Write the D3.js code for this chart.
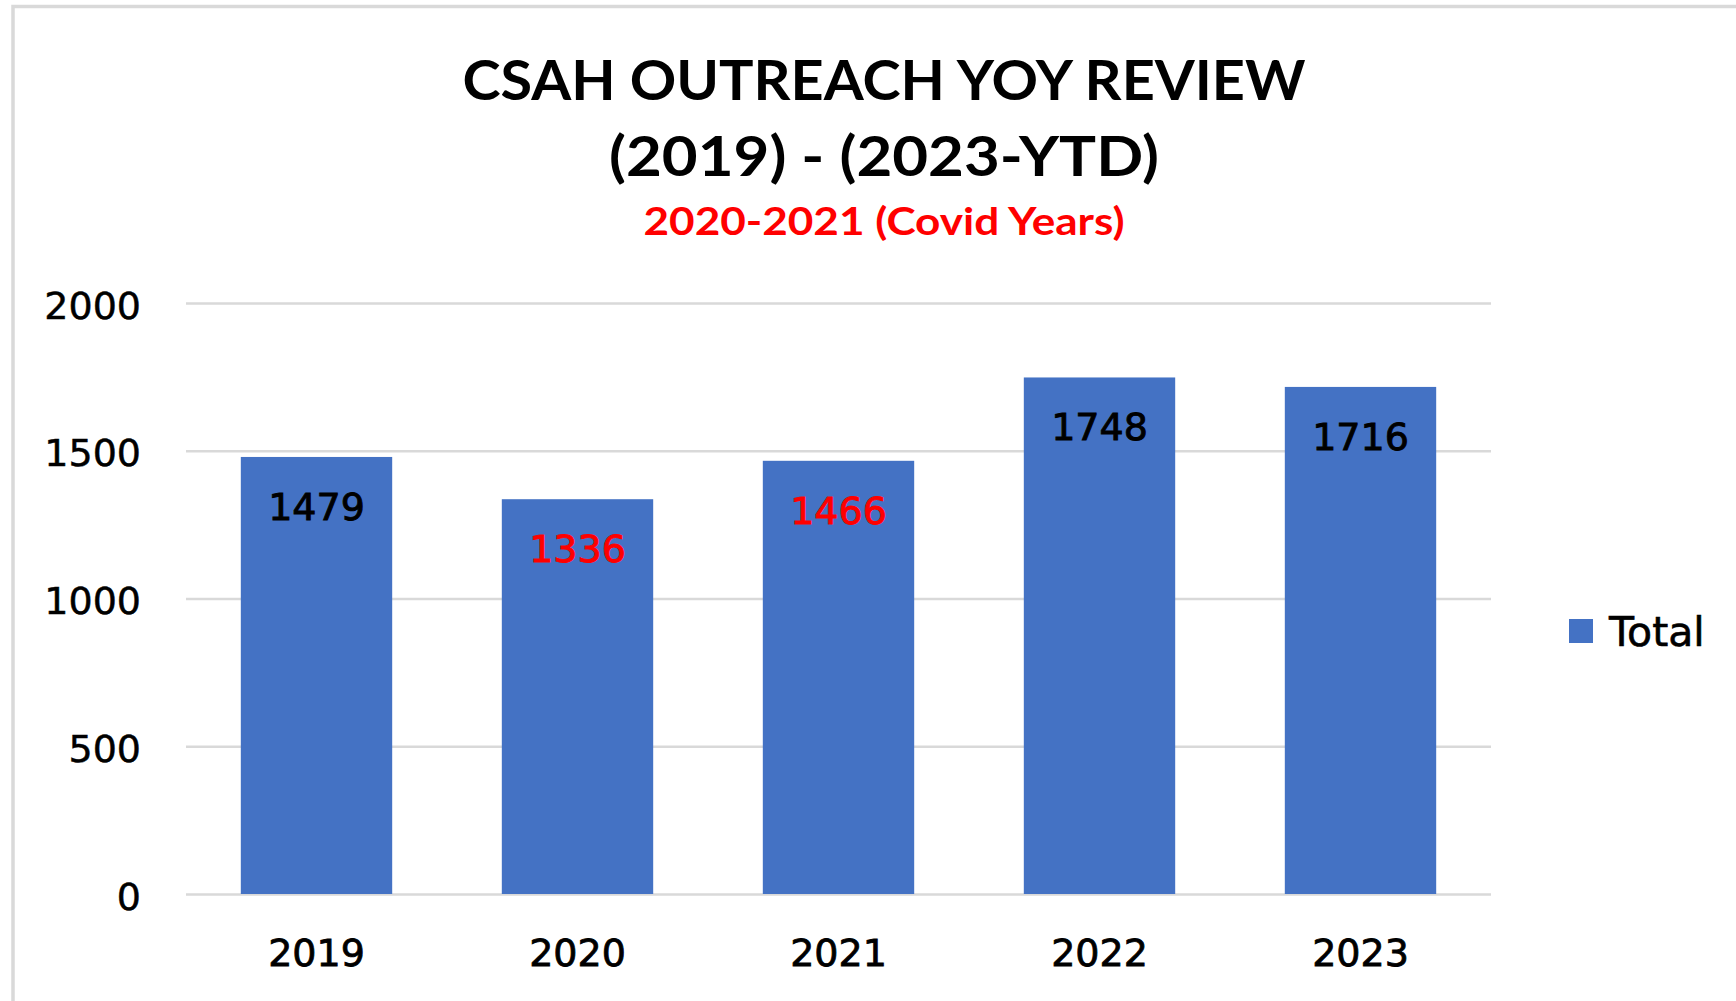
<!DOCTYPE html>
<html>
<head>
<meta charset="utf-8">
<title>CSAH Outreach YOY Review</title>
<script src="https://d3js.org/d3.v7.min.js"></script>
<style>
    body { margin: 0; background: #fff; }
    svg { display: block; }
    .tick text { font-family: "DejaVu Sans", Verdana, sans-serif; font-size: 38px; fill: #000; }
</style>
</head>
<body>
<div id="chart"></div>
<script>
// chart values
var years = ["2019", "2020", "2021", "2022", "2023"];
var totals = [1479, 1336, 1466, 1748, 1716];
var covidYears = ["2020", "2021"];
var yTicks = [0, 500, 1000, 1500, 2000];
var seriesName = "Total";

var W = 1736, H = 1001;
var plotLeft = 186, plotRight = 1491, plotTop = 303, plotBottom = 894;

var svg = d3.select("#chart").append("svg")
    .attr("width", W).attr("height", H);

// chart area border (only top/left visible in the shot)
svg.append("rect").attr("x", 13).attr("y", 6.5)
    .attr("width", W + 20).attr("height", H + 20)
    .attr("fill", "none").attr("stroke", "#d9d9d9").attr("stroke-width", 3.5);

// titles
function fitText(sel, w) {
    sel.attr("textLength", w).attr("lengthAdjust", "spacingAndGlyphs");
}
svg.append("text").attr("x", 884).attr("y", 100)
    .attr("text-anchor", "middle")
    .style("font-family", "Lato, 'Open Sans', sans-serif").style("font-weight", 700)
    .style("font-size", "56px").attr("fill", "#000")
    .text("CSAH OUTREACH YOY REVIEW").call(fitText, 843);
svg.append("text").attr("x", 884).attr("y", 176)
    .attr("text-anchor", "middle")
    .style("font-family", "Lato, 'Open Sans', sans-serif").style("font-weight", 700)
    .style("font-size", "56px").attr("fill", "#000")
    .text("(2019) - (2023-YTD)").call(fitText, 550);
svg.append("text").attr("x", 884).attr("y", 235)
    .attr("text-anchor", "middle")
    .style("font-family", "Lato, 'Open Sans', sans-serif").style("font-weight", 700)
    .style("font-size", "38px").attr("fill", "#ff0000")
    .text("2020-2021 (Covid Years)").call(fitText, 481);

var x = d3.scaleBand().domain(years).range([plotLeft, plotRight])
    .paddingInner(0.42).paddingOuter(0.21);
var y = d3.scaleLinear().domain([0, 2000]).range([plotBottom, plotTop]);

// gridlines
svg.append("g").attr("class", "grid")
    .attr("transform", "translate(" + plotLeft + ",0)")
    .call(d3.axisLeft(y).tickValues(yTicks).tickSize(-(plotRight - plotLeft)).tickFormat(""))
    .call(function(g) { g.select(".domain").remove(); })
    .call(function(g) { g.selectAll("line").attr("stroke", "#d9d9d9").attr("stroke-width", 2.5); });

// y axis labels
svg.append("g")
    .attr("transform", "translate(" + plotLeft + ",0)")
    .call(d3.axisLeft(y).tickValues(yTicks).tickSize(0).tickPadding(45).tickFormat(d3.format("d")))
    .call(function(g) { g.select(".domain").remove(); })
    .call(function(g) { g.selectAll("text").attr("dy", "0.4em").attr("stroke", "#000").attr("stroke-width", 0.5); });

// bars
var data = years.map(function(d, i) { return { year: d, value: totals[i] }; });
svg.append("g").selectAll("rect").data(data).enter().append("rect")
    .attr("x", function(d) { return x(d.year); })
    .attr("y", function(d) { return y(d.value); })
    .attr("width", x.bandwidth())
    .attr("height", function(d) { return plotBottom - y(d.value); })
    .attr("fill", "#4472c4");

// data labels
svg.append("g").selectAll("text").data(data).enter().append("text")
    .attr("x", function(d) { return x(d.year) + x.bandwidth() / 2; })
    .attr("y", function(d) { return y(d.value) + 63; })
    .attr("text-anchor", "middle")
    .style("font-family", "'DejaVu Sans', Verdana, sans-serif")
    .style("font-size", "38px")
    .attr("fill", function(d) { return covidYears.indexOf(d.year) >= 0 ? "#ff0000" : "#000"; })
    .attr("stroke", function(d) { return covidYears.indexOf(d.year) >= 0 ? "#ff0000" : "#000"; })
    .attr("stroke-width", 0.9)
    .text(function(d) { return d.value; });

// x axis
svg.append("g")
    .attr("transform", "translate(0," + plotBottom + ")")
    .call(d3.axisBottom(x).tickSize(0).tickPadding(45))
    .call(function(g) { g.select(".domain").remove(); })
    .call(function(g) { g.selectAll("text").attr("stroke", "#000").attr("stroke-width", 0.8); });

// legend
var legend = svg.append("g").attr("transform", "translate(1569,619)");
legend.append("rect").attr("width", 24).attr("height", 24).attr("fill", "#4472c4");
legend.append("text").attr("x", 40).attr("y", 27)
    .style("font-family", "'DejaVu Sans', Verdana, sans-serif")
    .style("font-size", "41px").attr("fill", "#000")
    .attr("stroke", "#000").attr("stroke-width", 0.6)
    .text(seriesName);
</script>
</body>
</html>
